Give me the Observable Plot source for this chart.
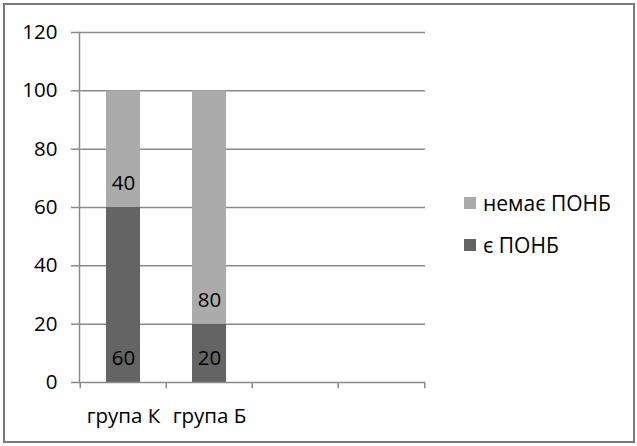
<!DOCTYPE html>
<html>
<head>
<meta charset="utf-8">
<script src="https://cdn.jsdelivr.net/npm/d3@7"></script>
<script src="https://cdn.jsdelivr.net/npm/@observablehq/plot@0.6"></script>
<style>
  html, body { margin: 0; padding: 0; background: #fff; }
  #wrap { position: relative; width: 637px; height: 446px; overflow: hidden; font-family: "Open Sans", sans-serif; }
  #border { position: absolute; left: 3px; top: 3px; width: 632px; height: 440px; box-sizing: border-box; border: 2px solid #7a7a7a; }
  #chart { position: absolute; left: 0; top: 0; }
  #legend { position: absolute; left: 464px; top: 189px; display: flex; flex-direction: column; gap: 14px; }
  .row { display: flex; align-items: center; height: 28px; font-size: 21px; color: #000; }
  .sw { width: 12px; height: 12px; margin-right: 7px; }
</style>
</head>
<body>
<div id="wrap">
  <div id="border"></div>
  <div id="chart"></div>
  <div id="legend"></div>
</div>
<script>
const categories = ["група К", "група Б"];
const emptySlots = ["", " "];
const series = ["є ПОНБ", "немає ПОНБ"];
const withValues = [60, 20];      // є ПОНБ
const withoutValues = [40, 80];   // немає ПОНБ
const yTicks = [0, 20, 40, 60, 80, 100, 120];
const colors = ["#646464", "#ababab"];

const data = categories.flatMap((c, i) => [
  {group: c, series: series[0], value: withValues[i]},
  {group: c, series: series[1], value: withoutValues[i]}
]);
const xDomain = [...categories, ...emptySlots];

const W = 637, H = 446, ML = 79, MR = 212, MT = 32, MB = 64;
const step = (W - ML - MR) / xDomain.length;
const gridColor = "#8a8a8a";
const fs = 20.5;

const chart = Plot.plot({
  width: W, height: H,
  marginLeft: ML, marginRight: MR, marginTop: MT, marginBottom: MB,
  style: {fontFamily: "Open Sans, sans-serif", fontSize: fs + "px", color: "#000", background: "transparent", overflow: "visible"},
  x: {domain: xDomain, paddingInner: 0.607, paddingOuter: 0.3035, axis: null},
  y: {domain: [0, 120], axis: null},
  color: {domain: series, range: colors},
  marks: [
    Plot.ruleY(yTicks.slice(1), {stroke: gridColor, strokeWidth: 1.5}),
    Plot.barY(data, {x: "group", y: "value", fill: "series"}),
    Plot.ruleY([0], {stroke: gridColor, strokeWidth: 1.5}),
    Plot.frame({anchor: "left", stroke: gridColor, strokeWidth: 1.5}),
    Plot.axisY({ticks: yTicks, tickSize: 8, tickPadding: 14, stroke: gridColor, strokeWidth: 1.5, fill: "#000", fontSize: fs, label: null}),
    Plot.axisX({tickSize: 0, tickPadding: 26, fill: "#000", fontSize: fs, label: null}),
    Plot.ruleX(xDomain, {x: d => d, y1: 0, y2: -2.1, dx: -step / 2, stroke: gridColor, strokeWidth: 1.5}),
    Plot.ruleX([xDomain[xDomain.length - 1]], {x: d => d, y1: 0, y2: -2.1, dx: step / 2, stroke: gridColor, strokeWidth: 1.5}),
    Plot.text(data, Plot.stackY1({x: "group", y: "value", text: "value", dy: -24, fill: "#000", fontSize: fs}))
  ]
});
document.getElementById("chart").appendChild(chart);

const legend = document.getElementById("legend");
[...series].reverse().forEach(s => {
  const row = document.createElement("div");
  row.className = "row";
  const sw = document.createElement("div");
  sw.className = "sw";
  sw.style.background = colors[series.indexOf(s)];
  const label = document.createElement("span");
  label.textContent = s;
  row.appendChild(sw);
  row.appendChild(label);
  legend.appendChild(row);
});
</script>
</body>
</html>
